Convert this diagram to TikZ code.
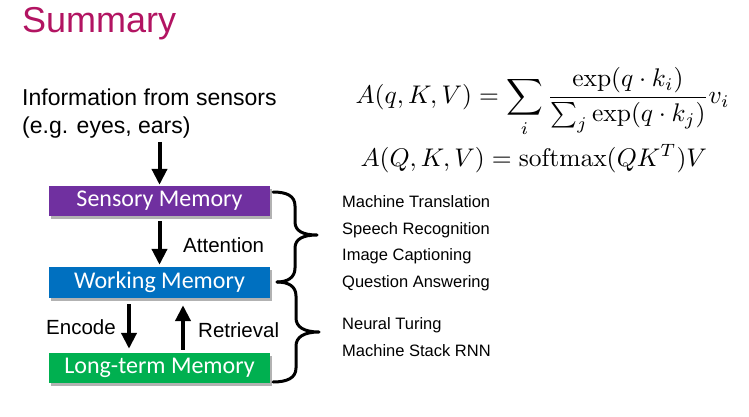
\documentclass[tikz,border=0pt]{standalone}
\usepackage[no-math]{fontspec}
\newfontfamily\arialfont{Liberation Sans}
\newfontfamily\calfont{Carlito}
\usetikzlibrary{arrows.meta,shadows}
\definecolor{titlemag}{RGB}{178,20,98}
\definecolor{sensfill}{RGB}{112,48,160}
\definecolor{workfill}{RGB}{0,112,192}
\definecolor{longfill}{RGB}{0,176,80}
\begin{document}
\begin{tikzpicture}[x=1pt,y=-1pt,
  membox/.style={draw=none, minimum width=221pt, minimum height=30pt, inner sep=0pt,
    text=white, font=\calfont\fontsize{24}{27}\selectfont,
    drop shadow={shadow xshift=2pt, shadow yshift=-3pt, opacity=0.5, fill=black!60}},
  flow/.style={line width=4pt, -{Triangle[width=15pt,length=16pt]}},
  lbl/.style={font=\arialfont\fontsize{20.5}{24}\selectfont, inner sep=0pt, anchor=base west},
  app/.style={font=\arialfont\fontsize{16.5}{19}\selectfont, inner sep=0pt, anchor=base west},
  formula/.style={inner sep=0pt, anchor=base west, scale=2.55},
  brc/.style={line width=3pt, line cap=round, line join=round}]
\useasboundingbox (0,0) rectangle (749,417);

% heading
\node[font=\arialfont\fontsize{36}{40}\selectfont, text=titlemag, inner sep=0pt, anchor=base west]
  (title) at (22,33) {Summary};

% sensor input text
\node[font=\arialfont\fontsize{23}{27}\selectfont, inner sep=0pt, anchor=base west]
  (info1) at (22,106) {Information from sensors};
\node[font=\arialfont\fontsize{23}{27}\selectfont, inner sep=0pt, anchor=base west]
  (info2) at (22,133) {(e.g. eyes, ears)};

% memory stores
\node[membox, fill=sensfill] (sens) at (159.5,201) {Sensory Memory};
\node[membox, fill=workfill, minimum height=31pt] (work) at (159.5,282.5) {Working Memory};
\node[membox, fill=longfill] (long) at (159.5,368) {Long-term Memory};

% flows between stores
\draw[flow] (sens.north |- info2.south) ++(0,4) coordinate (inTop) -- ([yshift=1pt]sens.north);
\draw[flow] ([yshift=-5pt]sens.south) -- ([yshift=2pt]work.north);
\draw[flow] ([xshift=-30.5pt,yshift=-6pt]work.south) -- ([xshift=-30.5pt,yshift=4pt]long.north);
\draw[flow] ([xshift=23.5pt,yshift=3pt]long.north) -- ([xshift=23.5pt,yshift=-7pt]work.south);

\node[lbl] (att) at (183,252) {Attention};
\node[lbl] (enc) at (46,334) {Encode};
\node[lbl] (ret) at (198,337) {Retrieval};

% braces grouping the stores
\draw[brc] (273,192) .. controls (287,192) and (295,196) .. (295,206) -- (295,222)
  .. controls (295,231) and (303,235) .. (317,235)
  .. controls (303,235) and (295,239) .. (295,248) -- (295,268)
  .. controls (295,278) and (287,282) .. (277,282);
\draw[brc] (277,282) .. controls (288,282) and (296,286) .. (296,296) -- (296,318)
  .. controls (296,327) and (304,332) .. (319,332)
  .. controls (304,332) and (296,337) .. (296,346) -- (296,368)
  .. controls (296,378) and (287,382) .. (273,382);

% applications
\node[app] (mt) at (342,207) {Machine Translation};
\node[app] (sr) at (342,234) {Speech Recognition};
\node[app] (ic) at (342,260) {Image Captioning};
\node[app] (qa) at (342,287) {Question Answering};
\node[app] (nt) at (342,329) {Neural Turing};
\node[app] (ms) at (342,356) {Machine Stack RNN};

% attention formulas
\node[formula] (eqa) at (355,104)
  {$\displaystyle A(q,K,V)=\sum_i \frac{\exp(q\cdot k_i)}{\sum_j \exp(q\cdot k_j)}v_i$};
\node[formula] (eqb) at (360,166)
  {$A(Q,K,V)=\mathrm{softmax}(QK^T)V$};
\end{tikzpicture}
\end{document}
